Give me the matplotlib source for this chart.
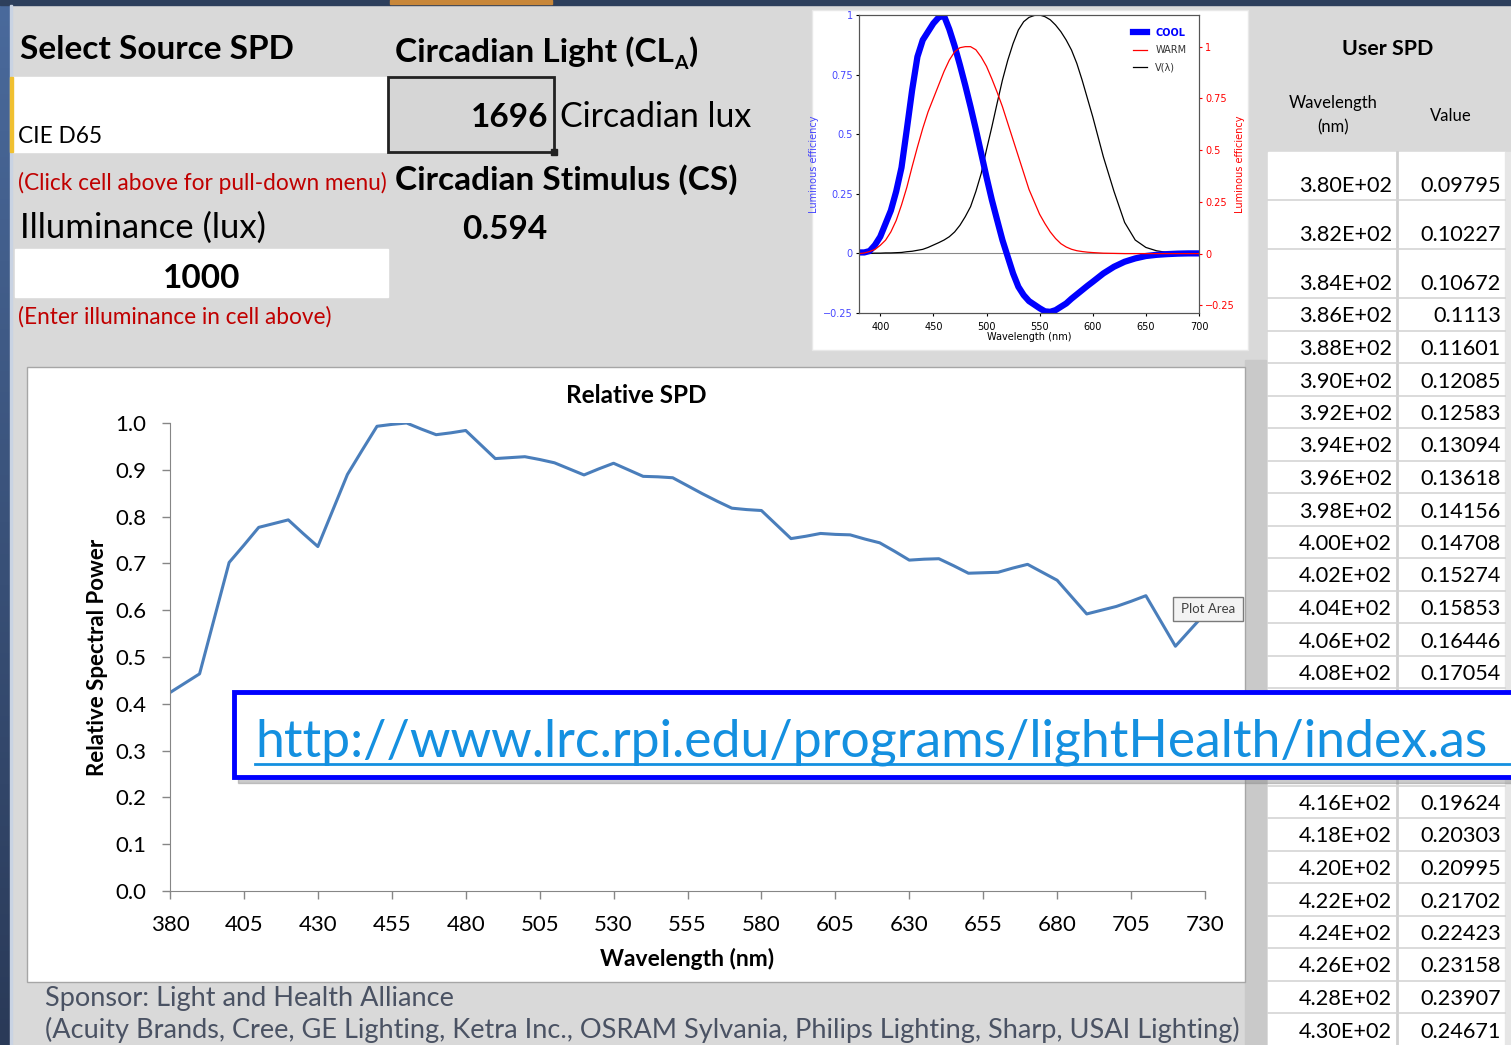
import numpy as np
import matplotlib.pyplot as plt
from matplotlib.patches import Rectangle
from matplotlib.lines import Line2D
from matplotlib.colors import LinearSegmentedColormap

plt.rcParams['font.family'] = ['Lato', 'DejaVu Sans']

W, H = 1511, 1045

# relative SPD of the selected source, 5 nm steps
spd_nm = list(range(380, 731, 5))
spd_rel = [0.424, 0.444, 0.464, 0.583, 0.702, 0.739, 0.777, 0.785, 0.793, 0.764,
           0.736, 0.813, 0.890, 0.942, 0.993, 0.997, 1.000, 0.987, 0.975, 0.979,
           0.984, 0.954, 0.924, 0.926, 0.928, 0.922, 0.915, 0.902, 0.889, 0.902,
           0.914, 0.900, 0.886, 0.885, 0.883, 0.866, 0.849, 0.833, 0.818, 0.815,
           0.813, 0.783, 0.753, 0.758, 0.764, 0.762, 0.761, 0.752, 0.744, 0.726,
           0.707, 0.709, 0.710, 0.695, 0.679, 0.680, 0.681, 0.690, 0.698, 0.681,
           0.664, 0.628, 0.592, 0.600, 0.608, 0.619, 0.631, 0.577, 0.523, 0.558,
           0.593]

# inset: spectral sensitivities
inset_nm = list(range(380, 601, 5)) + list(range(610, 701, 10))
cool = [0.004, 0.004, 0.01, 0.035, 0.07, 0.125, 0.18, 0.26, 0.36, 0.52,
        0.685, 0.825, 0.895, 0.93, 0.965, 0.99, 0.997, 0.94, 0.87, 0.79,
        0.705, 0.615, 0.52, 0.42, 0.32, 0.225, 0.14, 0.056, -0.014, -0.084,
        -0.14, -0.175, -0.20, -0.215, -0.23, -0.243, -0.245, -0.238, -0.224, -0.21,
        -0.19, -0.172, -0.154, -0.136, -0.119,
        -0.084, -0.056, -0.035, -0.021, -0.011, -0.006, -0.003, -0.001, 0.0, 0.0]
warm = [0.0, 0.003, 0.01, 0.02, 0.04, 0.065, 0.105, 0.16, 0.235, 0.32,
        0.42, 0.515, 0.605, 0.685, 0.75, 0.815, 0.88, 0.935, 0.975, 0.995,
        1.0, 1.0, 0.985, 0.95, 0.905, 0.845, 0.78, 0.71, 0.63, 0.55,
        0.47, 0.39, 0.31, 0.25, 0.19, 0.145, 0.105, 0.073, 0.048, 0.032,
        0.021, 0.014, 0.01, 0.007, 0.005,
        0.002, 0.001, 0.0, 0.0, 0.0, 0.0, 0.0, 0.0, 0.0, 0.0]
vlam = [0.0, 0.0, 0.0, 0.001, 0.001, 0.002, 0.002, 0.003, 0.004, 0.007,
        0.009, 0.013, 0.017, 0.025, 0.035, 0.045, 0.056, 0.07, 0.09, 0.118,
        0.154, 0.196, 0.26, 0.335, 0.435, 0.53, 0.63, 0.727, 0.81, 0.88,
        0.937, 0.972, 0.99, 0.998, 1.0, 0.993, 0.98, 0.958, 0.93, 0.895,
        0.853, 0.797, 0.727, 0.65, 0.573,
        0.405, 0.26, 0.13, 0.056, 0.025, 0.011, 0.004, 0.001, 0.0, 0.0]

# user SPD table (rows hidden behind the link box are left out)
tbl_nm = [380, 382, 384, 386, 388, 390, 392, 394, 396, 398, 400, 402, 404, 406,
          408, 416, 418, 420, 422, 424, 426, 428, 430]
tbl_val = [0.09795, 0.10227, 0.10672, 0.1113, 0.11601, 0.12085, 0.12583,
           0.13094, 0.13618, 0.14156, 0.14708, 0.15274, 0.15853, 0.16446,
           0.17054, 0.19624, 0.20303, 0.20995, 0.21702, 0.22423, 0.23158,
           0.23907, 0.24671]

source = "CIE D65"
illuminance = 1000
cla = 1696
cs = 0.594

RED = '#c00000'
GREY_BG = '#d9d9d9'


def rect(x0, y0, x1, y1):
    return [x0 / W, 1 - y1 / H, (x1 - x0) / W, (y1 - y0) / H]


def box(ax, x0, y0, x1, y1, **kw):
    ax.add_patch(Rectangle((x0, y0), x1 - x0, y1 - y0, **kw))


fig = plt.figure(figsize=(W / 100, H / 100), dpi=100)
fig.patch.set_facecolor(GREY_BG)

bg = fig.add_axes([0, 0, 1, 1])
bg.axis('off')
bg.set_xlim(0, W)
bg.set_ylim(H, 0)
bg.set_autoscale_on(False)

# slide frame
grad = LinearSegmentedColormap.from_list('side', ['#4a6a9c', '#2a3a58'])
bg.imshow(np.linspace(0, 1, 200).reshape(-1, 1), extent=(0, 10, H, 0),
          cmap=grad, aspect='auto')
box(bg, 0, 0, W, 5, color='#2d3f5c')
box(bg, 390, 0, 552, 4, color='#c8873a')
box(bg, 10, 5, 12, H, color='#c9d3e3')

# input cells
box(bg, 12, 77, 388, 152, color='white')
box(bg, 10, 77, 13, 152, color='#f0c030')
box(bg, 15, 249, 388, 297, color='white')
box(bg, 388, 77, 554, 152, facecolor='#d6d6d6', edgecolor='#222222', lw=2)
box(bg, 551, 149, 557, 155, color='#222222')

bold = dict(fontweight='bold', color='black')
bg.text(20, 59, 'Select Source SPD', fontsize=24, **bold)
bg.text(18, 143, source, fontsize=16.3)
bg.text(18, 190, '(Click cell above for pull-down menu)', fontsize=16.3, color=RED)
bg.text(20, 238, 'Illuminance (lux)', fontsize=25)
bg.text(202, 288, f'{illuminance}', fontsize=24, ha='center', **bold)
bg.text(18, 324, '(Enter illuminance in cell above)', fontsize=16.3, color=RED)

r = fig.canvas.get_renderer()
t1 = bg.text(395, 62, 'Circadian Light (CL', fontsize=24, **bold)
x1 = t1.get_window_extent(r).x1
t2 = bg.text(x1, 69, 'A', fontsize=14, **bold)
x2 = t2.get_window_extent(r).x1
bg.text(x2 + 1, 62, ')', fontsize=24, **bold)
bg.text(548, 127, f'{cla}', fontsize=24, ha='right', **bold)
bg.text(560, 127, 'Circadian lux', fontsize=24.4)
bg.text(395, 190, 'Circadian Stimulus (CS)', fontsize=24, **bold)
bg.text(505, 239, f'{cs:.3f}', fontsize=24, ha='center', **bold)

# table on the right
bg.text(1388, 55, 'User SPD', fontsize=15.4, ha='center', **bold)
bg.text(1333, 115, 'Wavelength\n(nm)', fontsize=12, ha='center', va='center',
        linespacing=1.6)
bg.text(1451, 121, 'Value', fontsize=12, ha='center')
box(bg, 1268, 152, 1505, H, color='white')
box(bg, 1505, 152, W, H, color='#e6e6e6')
bg.plot([1396.5, 1396.5], [152, H], color='#d0d0d0', lw=2)


def row_bottom(i):
    return 200 + 49 * i if i < 3 else 298 + 32.5 * (i - 2)


for i in range(26):
    yb = row_bottom(i)
    bg.plot([1268, 1505], [yb, yb], color='#d4d4d4', lw=1.2)
for nm, v in zip(tbl_nm, tbl_val):
    yb = row_bottom((nm - 380) // 2) - 8
    bg.text(1392, yb, f'{nm:.2E}', fontsize=15.6, ha='right')
    bg.text(1501, yb, f'{v:g}', fontsize=15.6, ha='right')

# main chart frame
box(bg, 1245, 360, 1266, H, color='#c9c9c9')
box(bg, 27, 367, 1245, 982, facecolor='white', edgecolor='#a6a6a6', lw=1)

# inset frame
box(bg, 812, 10, 1248, 350, facecolor='white', edgecolor='#e8e8e8', lw=1)

# footer
foot = '#4a5263'
bg.text(45, 1006, 'Sponsor: Light and Health Alliance', fontsize=19.5, color=foot)
bg.text(45, 1038, '(Acuity Brands, Cree, GE Lighting, Ketra Inc., OSRAM Sylvania, '
        'Philips Lighting, Sharp, USAI Lighting)', fontsize=19.5, color=foot)

# ---- Relative SPD chart ----
ax = fig.add_axes(rect(170, 423, 1205, 891))
ax.set_facecolor('none')
ax.plot(spd_nm, spd_rel, color='#4a7ebb', lw=2.2, solid_joinstyle='round')
ax.set_xlim(380, 730)
ax.set_ylim(0, 1)
ax.set_xticks(range(380, 731, 25))
yt = np.round(np.arange(0, 1.01, 0.1), 1)
ax.set_yticks(yt)
ax.set_yticklabels([f'{v:.1f}' for v in yt])
for s in ['top', 'right']:
    ax.spines[s].set_visible(False)
for s in ['left', 'bottom']:
    ax.spines[s].set_color('#868686')
ax.tick_params(colors='#868686', labelcolor='black', labelsize=16, length=6,
               width=1)
ax.tick_params(axis='y', pad=11)
ax.tick_params(axis='x', pad=11)
ax.text(0.45, 1.058, 'Relative SPD', transform=ax.transAxes, ha='center',
        va='center', fontsize=17.5, fontweight='bold')
ax.set_xlabel('Wavelength (nm)', fontsize=16.5, fontweight='bold')
ax.xaxis.set_label_coords(0.4995, -0.122)
ax.set_ylabel('Relative Spectral Power', fontsize=16, fontweight='bold')
ax.yaxis.set_label_coords(-0.060, 0.5)

# ---- inset chart (drawn in matplotlib's default face) ----
small = dict(family='DejaVu Sans')
BLUE_T = '#4646ff'
ai = fig.add_axes(rect(859, 15, 1199, 313))
ai.axhline(0, color='#888888', lw=0.8)
ai.plot(inset_nm, vlam, color='black', lw=0.9)
ai.plot(inset_nm, cool, color='#0000ff', lw=4.5, solid_joinstyle='round')
ai.set_xlim(380, 700)
ai.set_ylim(-0.25, 1)
ai.set_xticks(range(400, 701, 50))
ai.set_xticklabels([str(v) for v in range(400, 701, 50)], **small)
lt = [-0.25, 0, 0.25, 0.5, 0.75, 1]
lt_lab = ['\u22120.25', '0', '0.25', '0.5', '0.75', '1']
ai.set_yticks(lt)
ai.set_yticklabels(lt_lab, **small)
ai.tick_params(labelsize=7, length=2.5, pad=2)
ai.tick_params(axis='x', pad=4)
ai.tick_params(axis='y', labelcolor=BLUE_T)
ai.set_xlabel('Wavelength (nm)', fontsize=7, labelpad=0, **small)
ai.set_ylabel('Luminous efficiency', fontsize=7, color=BLUE_T, labelpad=3,
              **small)
for s in ai.spines.values():
    s.set_color('#555555')
    s.set_linewidth(0.8)

ar = ai.twinx()
ar.plot(inset_nm, warm, color='red', lw=0.9)
ar.set_ylim(-0.287, 1.153)
ar.set_yticks(lt)
ar.set_yticklabels(lt_lab, **small)
ar.tick_params(labelsize=7, length=2.5, pad=2, colors='red')
ar.set_ylabel('Luminous efficiency', fontsize=7, color='red', labelpad=0,
              **small)
for s in ar.spines.values():
    s.set_color('#555555')
    s.set_linewidth(0.8)
handles = [Line2D([], [], color='#0000ff', lw=4.5),
           Line2D([], [], color='red', lw=0.9),
           Line2D([], [], color='black', lw=0.9)]
leg = ar.legend(handles, ['COOL', 'WARM', 'V(\u03bb)'], loc='upper right',
                frameon=False, prop=dict(family='DejaVu Sans', size=7),
                handlelength=1.5, borderaxespad=0.9, labelspacing=0.75,
                handletextpad=0.8)
leg.get_texts()[0].set_color('#0000ff')
leg.get_texts()[0].set_fontweight('bold')
for t in leg.get_texts()[1:]:
    t.set_color('#333333')

# ---- overlay: tooltip and link box ----
ov = fig.add_axes([0, 0, 1, 1], zorder=10)
ov.axis('off')
ov.set_facecolor('none')
ov.set_xlim(0, W)
ov.set_ylim(H, 0)
ov.set_autoscale_on(False)
box(ov, 1173, 597, 1243, 621, facecolor='#f3f3f3', edgecolor='#7a7a7a', lw=1)
ov.text(1208, 609, 'Plot Area', fontsize=9.5, ha='center', va='center',
        color='#404040')
box(ov, 238, 698, W + 10, 783, color='#8c8c8c', alpha=0.45)
box(ov, 234, 692, W + 10, 777, facecolor='white', edgecolor='#0000ff', lw=3.5)
link = '#1490e0'
ov.text(255, 756, 'http://www.lrc.rpi.edu/programs/lightHealth/index.as',
        fontsize=37.3, color=link)
ov.plot([255, W], [764, 764], color=link, lw=2)

fig.savefig('out.png', dpi=100, facecolor=fig.get_facecolor())
